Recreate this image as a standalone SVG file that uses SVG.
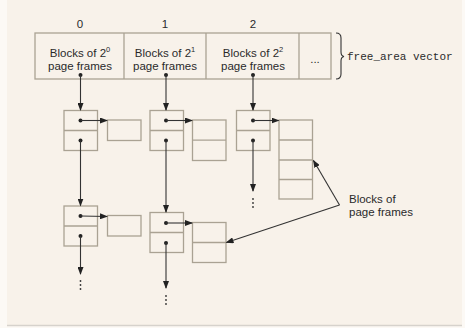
<svg xmlns="http://www.w3.org/2000/svg" width="465" height="328" viewBox="0 0 465 328">
<defs>
<style>
.box{fill:none;stroke:#aaa293;stroke-width:1.3}
.ln{fill:none;stroke:#333;stroke-width:1.1}
.dot{fill:#222}
.t{font-family:"Liberation Sans",Arial,sans-serif;font-size:11.5px;fill:#2a2a2a}
.sup{font-size:7.5px}
.m{font-family:"Liberation Mono","Courier New",monospace;font-size:11px;fill:#2a2a2a}
.vd{fill:#333}
</style>
<marker id="ah" markerUnits="userSpaceOnUse" markerWidth="8" markerHeight="6" refX="7" refY="3" orient="auto">
<path d="M0,0 L8,3 L0,6 z" fill="#222"/>
</marker>
</defs>
<rect x="0" y="0" width="465" height="328" fill="#fcf9f5"/>
<rect x="7" y="0" width="455" height="325" fill="#f8f2ea"/>
<line x1="7" y1="325.5" x2="462" y2="325.5" stroke="#d6d2cc" stroke-width="1.5"/>

<g id="free_area_vector">
<rect class="box" x="35" y="33" width="296" height="46"/>
<line class="box" x1="124" y1="33" x2="124" y2="79"/>
<line class="box" x1="206" y1="33" x2="206" y2="79"/>
<line class="box" x1="299" y1="33" x2="299" y2="79"/>
<text class="t" x="80" y="28" text-anchor="middle">0</text>
<text class="t" x="165" y="28" text-anchor="middle">1</text>
<text class="t" x="253" y="28" text-anchor="middle">2</text>
<text class="t" x="80" y="57" text-anchor="middle">Blocks of 2<tspan class="sup" dy="-5">0</tspan></text>
<text class="t" x="80" y="70" text-anchor="middle">page frames</text>
<text class="t" x="165" y="57" text-anchor="middle">Blocks of 2<tspan class="sup" dy="-5">1</tspan></text>
<text class="t" x="165" y="70" text-anchor="middle">page frames</text>
<text class="t" x="253" y="57" text-anchor="middle">Blocks of 2<tspan class="sup" dy="-5">2</tspan></text>
<text class="t" x="253" y="70" text-anchor="middle">page frames</text>
<text class="t" x="315" y="63" text-anchor="middle">...</text>
<circle class="dot" cx="80.5" cy="75" r="2"/>
<circle class="dot" cx="166" cy="75" r="2"/>
<circle class="dot" cx="253" cy="75" r="2"/>
<path class="ln" d="M336,33 Q341,33 341,38 L341,52 Q341,56 344,56.5 Q341,57 341,61 L341,74 Q341,79 336,79"/>
<text class="m" x="347" y="60">free_area vector</text>
</g>

<g id="node_0a">
<rect class="box" x="64" y="110.5" width="33.5" height="40"/>
<line class="box" x1="64" y1="130.5" x2="97.5" y2="130.5"/>
<circle class="dot" cx="80.5" cy="120.5" r="2"/>
<circle class="dot" cx="80.5" cy="140.5" r="2"/>
</g>
<g id="block_0a">
<rect class="box" x="107.5" y="120" width="33.5" height="20.5"/>
</g>
<g id="node_0b">
<rect class="box" x="64" y="206" width="33.5" height="40"/>
<line class="box" x1="64" y1="226" x2="97.5" y2="226"/>
<circle class="dot" cx="80.5" cy="216" r="2"/>
<circle class="dot" cx="80.5" cy="236" r="2"/>
</g>
<g id="block_0b">
<rect class="box" x="107.5" y="215.5" width="33.5" height="20.5"/>
</g>

<g id="node_1a">
<rect class="box" x="150" y="110.5" width="33.5" height="40"/>
<line class="box" x1="150" y1="130.5" x2="183.5" y2="130.5"/>
<circle class="dot" cx="166" cy="120.5" r="2"/>
<circle class="dot" cx="166" cy="140.5" r="2"/>
</g>
<g id="block_1a">
<rect class="box" x="192.5" y="120" width="33.5" height="40.5"/>
<line class="box" x1="192.5" y1="140.2" x2="226" y2="140.2"/>
</g>
<g id="node_1b">
<rect class="box" x="150" y="212.5" width="33.5" height="40"/>
<line class="box" x1="150" y1="232.5" x2="183.5" y2="232.5"/>
<circle class="dot" cx="166" cy="223" r="2"/>
<circle class="dot" cx="166" cy="243" r="2"/>
</g>
<g id="block_1b">
<rect class="box" x="192.5" y="222.5" width="33.5" height="40"/>
<line class="box" x1="192.5" y1="242.5" x2="226" y2="242.5"/>
</g>

<g id="node_2a">
<rect class="box" x="236.5" y="110.5" width="33.5" height="40"/>
<line class="box" x1="236.5" y1="130.5" x2="270" y2="130.5"/>
<circle class="dot" cx="253" cy="120.5" r="2"/>
<circle class="dot" cx="253" cy="140.5" r="2"/>
</g>
<g id="block_2a">
<rect class="box" x="279" y="120" width="33.5" height="79"/>
<line class="box" x1="279" y1="140" x2="312.5" y2="140"/>
<line class="box" x1="279" y1="160" x2="312.5" y2="160"/>
<line class="box" x1="279" y1="179.5" x2="312.5" y2="179.5"/>
</g>

<g id="label_blocks">
<text class="t" x="349" y="203">Blocks of</text>
<text class="t" x="349" y="216">page frames</text>
</g>

<g id="connectors">
<line class="ln" x1="80.5" y1="75" x2="80.5" y2="110" marker-end="url(#ah)"/>
<line class="ln" x1="166" y1="75" x2="166" y2="110" marker-end="url(#ah)"/>
<line class="ln" x1="253" y1="75" x2="253" y2="110" marker-end="url(#ah)"/>
<line class="ln" x1="80.5" y1="120.5" x2="107" y2="120.5" marker-end="url(#ah)"/>
<line class="ln" x1="166" y1="120.5" x2="192" y2="120.5" marker-end="url(#ah)"/>
<line class="ln" x1="253" y1="120.5" x2="278.5" y2="120.5" marker-end="url(#ah)"/>
<line class="ln" x1="80.5" y1="140.5" x2="80.5" y2="205.5" marker-end="url(#ah)"/>
<line class="ln" x1="166" y1="140.5" x2="166" y2="212" marker-end="url(#ah)"/>
<line class="ln" x1="253" y1="140.5" x2="253" y2="191" marker-end="url(#ah)"/>
<line class="ln" x1="80.5" y1="216" x2="107" y2="216.5" marker-end="url(#ah)"/>
<line class="ln" x1="166" y1="223" x2="192" y2="223" marker-end="url(#ah)"/>
<line class="ln" x1="80.5" y1="236" x2="80.5" y2="274" marker-end="url(#ah)"/>
<line class="ln" x1="166" y1="243" x2="166" y2="288" marker-end="url(#ah)"/>
<line class="ln" x1="339.5" y1="205" x2="313.5" y2="160.5" marker-end="url(#ah)"/>
<line class="ln" x1="339.5" y1="205" x2="226.5" y2="242.5" marker-end="url(#ah)"/>
<circle class="vd" cx="253" cy="199" r="0.9"/>
<circle class="vd" cx="253" cy="203" r="0.9"/>
<circle class="vd" cx="253" cy="207" r="0.9"/>
<circle class="vd" cx="80.5" cy="281" r="0.9"/>
<circle class="vd" cx="80.5" cy="285" r="0.9"/>
<circle class="vd" cx="80.5" cy="289" r="0.9"/>
<circle class="vd" cx="166" cy="296" r="0.9"/>
<circle class="vd" cx="166" cy="300" r="0.9"/>
<circle class="vd" cx="166" cy="304" r="0.9"/>
</g>
</svg>
